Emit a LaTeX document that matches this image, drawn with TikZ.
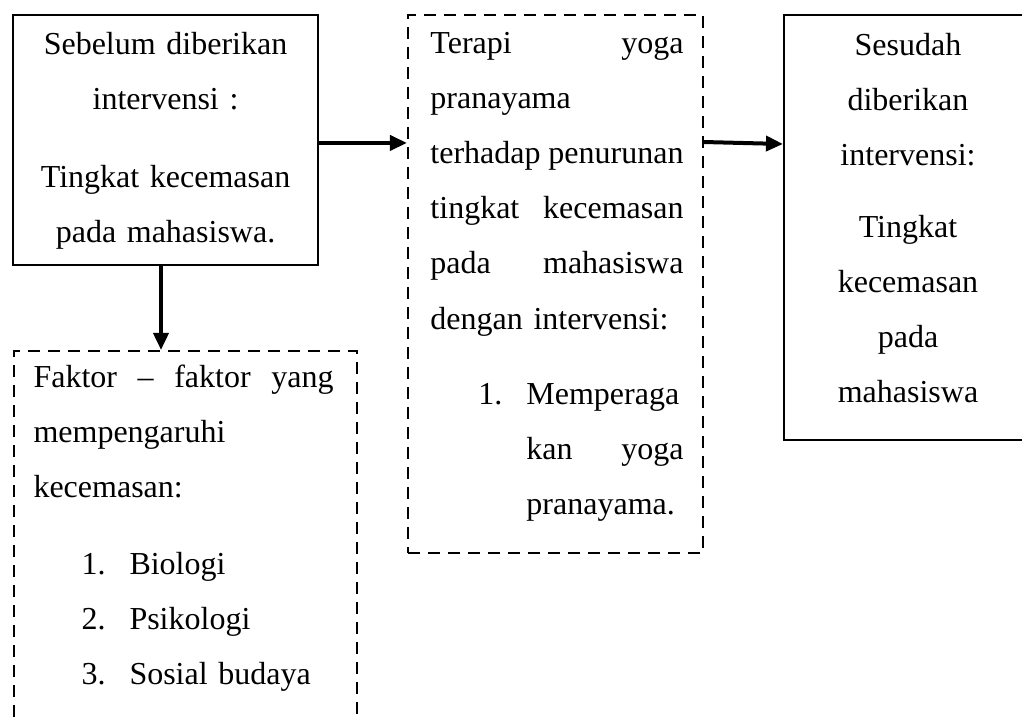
\documentclass[tikz,border=0pt]{standalone}
\usepackage{fontspec}
\setmainfont{Liberation Serif}
\usepackage{tikz}
\usetikzlibrary{arrows.meta,positioning}

\begin{document}
\begin{tikzpicture}[
    x=0.375pt, y=-0.375pt,
    frame/.style={draw, line width=0.75pt, inner sep=0pt, anchor=north west},
    dashframe/.style={frame, dash pattern=on 4.5pt off 3pt},
    txt/.style={inner sep=0pt, font=\fontsize{12}{20.7}\selectfont},
    arrow/.style={-{Triangle[length=6.4pt,width=5.6pt]}, line width=1.5pt}
  ]
    \useasboundingbox (0,0) rectangle (1022,716);

    % frames
    \node[frame, minimum width=114.4pt, minimum height=93.75pt] (before) at (12,14) {};
    \node[dashframe, minimum width=110.6pt, minimum height=201.75pt] (yoga) at (407,14) {};
    \node[frame, minimum width=93pt, minimum height=159.4pt] (after) at (783,14) {};
    \node[dashframe, minimum width=128.6pt, minimum height=150pt] (factors) at (13,350) {};

    % texts
    \node[txt, text width=110pt, align=center, anchor=north] (beforetxt)
      at ([yshift=-0.4pt]before.north)
      {\strut Sebelum diberikan\\ intervensi :\\[8.5pt] Tingkat kecemasan\\ pada mahasiswa.};
    \node[txt, text width=94.9pt, align=left, anchor=north west] (yogatxt)
      at ([xshift=8.6pt]yoga.north west)
      {\strut Terapi\hfill yoga\\
       pranayama\\
       terhadap\hfill penurunan\\
       tingkat\hfill kecemasan\\
       pada\hfill mahasiswa\\
       dengan intervensi:\par\vspace{7.5pt}
       \leftskip=36pt
       \noindent\llap{\makebox[18pt][l]{1.}}Memperaga\\
       kan\hfill yoga\\
       pranayama.\par};
    \node[txt, text width=86pt, align=center, anchor=north] (aftertxt)
      at ([yshift=-0.9pt]after.north)
      {\strut Sesudah\\ diberikan\\ intervensi:\\[6pt] Tingkat\\ kecemasan\\ pada\\ mahasiswa};
    \node[txt, text width=112.5pt, align=left, anchor=north west] (factorstxt)
      at ([xshift=7.5pt, yshift=0.6pt]factors.north west)
      {\strut Faktor\hfill \textendash\hfill faktor\hfill yang\\
       mempengaruhi\\
       kecemasan:\par\vspace{8pt}
       \leftskip=36pt
       \noindent\llap{\makebox[18pt][l]{1.}}Biologi\par
       \noindent\llap{\makebox[18pt][l]{2.}}Psikologi\par
       \noindent\llap{\makebox[18pt][l]{3.}}Sosial budaya\par};

    % arrows
    \draw[arrow] ([yshift=-1.1pt]before.east) -- ([yshift=-1.1pt]before.east -| yoga.west);
    \draw[arrow] ([yshift=-48pt]yoga.north east) -- ([yshift=-48.75pt]after.north west);
    \draw[arrow] ([xshift=-1.7pt]before.south) -- ([xshift=-1.7pt]before.south |- factors.north);
  \end{tikzpicture}
\end{document}
